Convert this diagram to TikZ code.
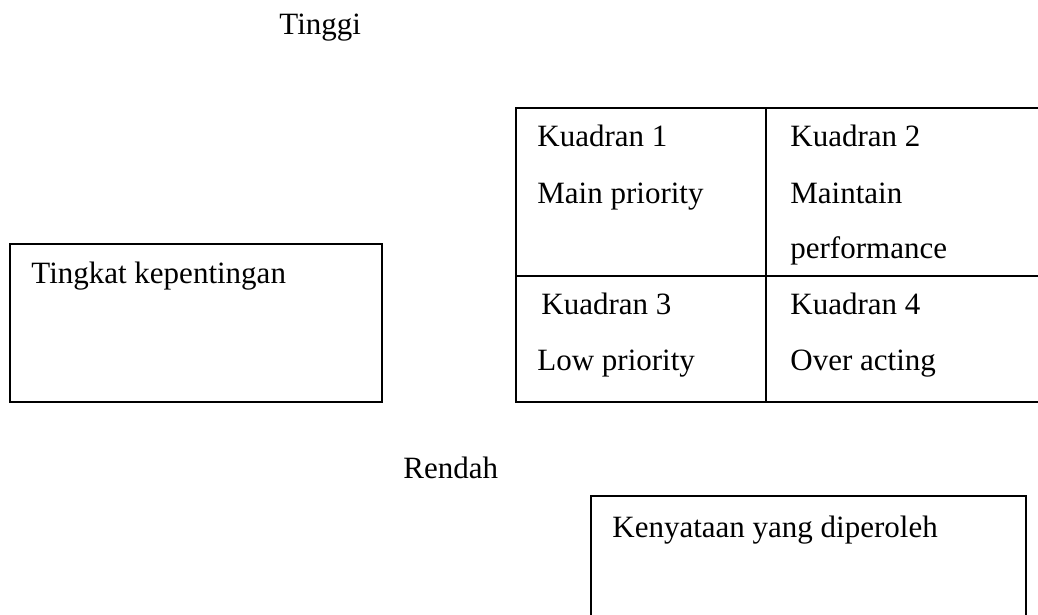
\documentclass[tikz,border=0pt]{standalone}
\usepackage{fontspec}
\setmainfont{Liberation Serif}
\usetikzlibrary{positioning}
\tikzset{
	box/.style={
		draw,
		line width=1pt,
		inner sep=0,
		outer sep=0,
		anchor=north west
	},
	txt/.style={
		anchor=base west,
		inner sep=0,
		font=\fontsize{15.5}{18}\selectfont
	}
}

\begin{document}
\begin{tikzpicture}[x=0.5pt, y=-0.5pt]
			\clip (0,0) rectangle (1038,615);
			% boxes
			\node [box, minimum width=186.15pt, minimum height=79pt] (kepentingan) at (10,244.3) {};
			\node [box, minimum width=124.85pt, minimum height=83.7pt] (kuadran1) at (516,108.3) {};
			\node [box, minimum width=150pt, minimum height=83.7pt] (kuadran2) at (765.7,108.3) {};
			\node [box, minimum width=124.85pt, minimum height=63.3pt] (kuadran3) at (516,275.7) {};
			\node [box, minimum width=150pt, minimum height=63.3pt] (kuadran4) at (765.7,275.7) {};
			\node [box, minimum width=217.65pt, minimum height=75pt] (kenyataan) at (590.7,495.7) {};
			% texts
			\node [txt] (tinggi) at (279,35) {Tinggi};
			\node [txt] (rendah) at (403,478) {Rendah};
			\node [txt] (kepentingantxt) at (31,283) {Tingkat kepentingan};
			\node [txt] (kenyataantxt) at (612,537) {Kenyataan yang diperoleh};
			\node [txt] (k1a) at (537,147) {Kuadran 1};
			\node [txt] (k1b) at (537,203) {Main priority};
			\node [txt] (k2a) at (790,147) {Kuadran 2};
			\node [txt] (k2b) at (790,203) {Maintain};
			\node [txt] (k2c) at (790,258) {performance};
			\node [txt] (k3a) at (541,314) {Kuadran 3};
			\node [txt] (k3b) at (537,370) {Low priority};
			\node [txt] (k4a) at (790,314) {Kuadran 4};
			\node [txt] (k4b) at (790,370) {Over acting};
		\end{tikzpicture}
\end{document}
